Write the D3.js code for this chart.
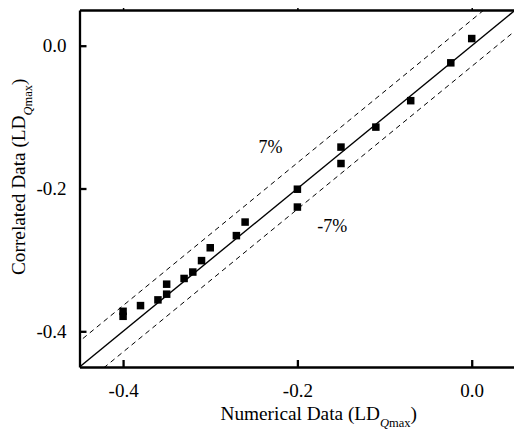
<!DOCTYPE html>
<html>
<head>
<meta charset="utf-8">
<script src="https://cdn.jsdelivr.net/npm/d3@7"></script>
<style>
  html, body { margin: 0; padding: 0; background: #fff; }
  svg { display: block; }
</style>
</head>
<body>
<div id="chart"></div>
<script>
// ---- data ----
const numerical = [-0.400, -0.400, -0.380, -0.360, -0.350, -0.350, -0.330, -0.320, -0.310, -0.300,
                   -0.270, -0.260, -0.200, -0.200, -0.150, -0.150, -0.110, -0.070, -0.024, 0.000];
const correlated = [-0.372, -0.379, -0.364, -0.356, -0.334, -0.348, -0.326, -0.317, -0.301, -0.283,
                    -0.266, -0.247, -0.201, -0.226, -0.142, -0.165, -0.114, -0.077, -0.024, 0.010];
const xTicks = [-0.4, -0.2, 0.0];
const yTicks = [-0.4, -0.2, 0.0];
const xTickLabels = ["-0.4", "-0.2", "0.0"];
const yTickLabels = ["-0.4", "-0.2", "0.0"];
const bandOffsets = [0.036, -0.029];      // upper (7%) and lower (-7%) dashed lines
const bandLabels = ["7%", "-7%"];
const bandLabelPos = [[-0.231, -0.150], [-0.160, -0.261]];
const domainX = [-0.45, 0.05];
const domainY = [-0.45, 0.05];

const FONT = "'Liberation Serif', 'Times New Roman', Times, 'DejaVu Serif', serif";

// ---- layout ----
const W = 514, H = 432;
const svg = d3.select("#chart").append("svg").attr("width", W).attr("height", H)
  .style("font-family", FONT);

const x = d3.scaleLinear().domain(domainX).range([79.5, 515.3]);
const y = d3.scaleLinear().domain(domainY).range([367, 10]);

svg.append("clipPath").attr("id", "clip")
  .append("rect").attr("x", x.range()[0]).attr("y", y.range()[1])
  .attr("width", x.range()[1] - x.range()[0]).attr("height", y.range()[0] - y.range()[1]);

const plot = svg.append("g").attr("clip-path", "url(#clip)");

// identity line
const lineGen = d3.line().x(d => x(d[0])).y(d => y(d[1]));
plot.append("path")
  .datum([[domainX[0], domainX[0]], [domainX[1], domainX[1]]])
  .attr("d", lineGen).attr("fill", "none").attr("stroke", "#000").attr("stroke-width", 1.4);

// dashed band lines
bandOffsets.forEach(off => {
  plot.append("path")
    .datum([[domainX[0] - 0.1, domainX[0] - 0.1 + off], [domainX[1] + 0.1, domainX[1] + 0.1 + off]])
    .attr("d", lineGen).attr("fill", "none").attr("stroke", "#000")
    .attr("stroke-width", 1).attr("stroke-dasharray", "5,4");
});

// points
const sz = 7.5;
plot.selectAll("rect.pt").data(numerical.map((v, i) => [v, correlated[i]]))
  .enter().append("rect").attr("class", "pt")
  .attr("x", d => x(d[0]) - sz / 2).attr("y", d => y(d[1]) - sz / 2)
  .attr("width", sz).attr("height", sz).attr("fill", "#000");

// band labels
bandLabels.forEach((t, i) => {
  svg.append("text").attr("x", x(bandLabelPos[i][0])).attr("y", y(bandLabelPos[i][1]))
    .style("font-family", FONT).attr("font-size", 18).attr("text-anchor", "middle").text(t);
});

// axes
const xAxis = d3.axisBottom(x).tickValues(xTicks).tickFormat((d, i) => xTickLabels[i])
  .tickSizeInner(-7).tickSizeOuter(0).tickPadding(17);
const gx = svg.append("g").attr("transform", `translate(0,${y.range()[0]})`).call(xAxis);
gx.attr("font-family", null).style("font-family", FONT);
gx.select(".domain").attr("stroke-width", 2.3);
gx.selectAll(".tick line").attr("stroke-width", 2.3);
gx.selectAll(".tick text").attr("font-size", 19).style("font-family", FONT);

const yAxis = d3.axisLeft(y).tickValues(yTicks).tickFormat((d, i) => yTickLabels[i])
  .tickSizeInner(-7).tickSizeOuter(0).tickPadding(13);
const gy = svg.append("g").attr("transform", `translate(${x.range()[0]},0)`).call(yAxis);
gy.attr("font-family", null).style("font-family", FONT);
gy.select(".domain").attr("stroke-width", 2.3);
gy.selectAll(".tick line").attr("stroke-width", 2.3);
gy.selectAll(".tick text").attr("font-size", 19).style("font-family", FONT);

const xTop = d3.axisTop(x).tickValues(xTicks).tickFormat("").tickSizeInner(2).tickSizeOuter(0);
const gt = svg.append("g").attr("transform", `translate(0,${y.range()[1]})`).call(xTop);
gt.select(".domain").attr("stroke-width", 2.3);
gt.selectAll(".tick line").attr("stroke-width", 1.5);

// axis titles
const xt = svg.append("text").attr("x", 220.5).attr("y", 420).attr("font-size", 19.3)
  .style("font-family", FONT);
xt.append("tspan").text("Numerical Data (LD");
xt.append("tspan").attr("dy", 7).attr("font-size", 12.5).attr("font-style", "italic").text("Q");
xt.append("tspan").attr("font-size", 12.5).text("max");
xt.append("tspan").attr("dy", -7).text(")");

const yt = svg.append("text").attr("transform", "translate(25,275) rotate(-90)").attr("font-size", 19.3)
  .style("font-family", FONT);
yt.append("tspan").text("Correlated Data (LD");
yt.append("tspan").attr("dy", 7).attr("font-size", 12.5).attr("font-style", "italic").text("Q");
yt.append("tspan").attr("font-size", 12.5).text("max");
yt.append("tspan").attr("dy", -7).text(")");
</script>
</body>
</html>
